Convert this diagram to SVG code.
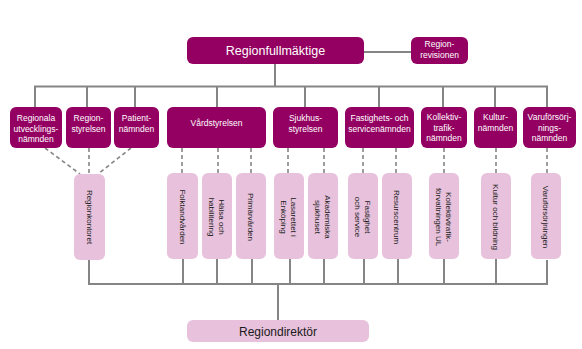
<svg xmlns="http://www.w3.org/2000/svg" width="582" height="349" viewBox="0 0 582 349">
  <style>
    .board { fill: #940061; }
    .unit { fill: #e8c2dc; }
    .solid { stroke: #858585; stroke-width: 2; fill: none; }
    .dash { stroke: #858585; stroke-width: 1.6; stroke-dasharray: 4 3; fill: none; }
    .wt { fill: #ffffff; font-family: "Liberation Sans", Arial, sans-serif; font-size: 8.5px; text-anchor: middle; }
    .bt { fill: #1a1a1a; font-family: "Liberation Sans", Arial, sans-serif; font-size: 8px; text-anchor: middle; }
    .big { font-size: 12.5px; }
  </style>
  <rect width="582" height="349" fill="#ffffff"/>

  <g id="connectors">
    <!-- council to revision -->
    <line class="solid" x1="364" y1="52" x2="411" y2="52"/>
    <!-- council down to boards -->
    <line class="solid" x1="275" y1="64" x2="275" y2="86.5"/>
    <polyline class="solid" points="35,107 35,86.5 547,86.5 547,107"/>
    <line class="solid" x1="87" y1="86.5" x2="87" y2="107"/>
    <line class="solid" x1="135" y1="86.5" x2="135" y2="107"/>
    <line class="solid" x1="217" y1="86.5" x2="217" y2="107"/>
    <line class="solid" x1="305" y1="86.5" x2="305" y2="107"/>
    <line class="solid" x1="379" y1="86.5" x2="379" y2="107"/>
    <line class="solid" x1="443" y1="86.5" x2="443" y2="107"/>
    <line class="solid" x1="495" y1="86.5" x2="495" y2="107"/>
    <!-- boards to administrations (dashed) -->
    <line class="dash" x1="45" y1="148" x2="80" y2="174"/>
    <line class="dash" x1="89" y1="148" x2="89" y2="174"/>
    <line class="dash" x1="131" y1="148" x2="98" y2="174"/>
    <line class="dash" x1="182" y1="148" x2="182" y2="173"/>
    <line class="dash" x1="218" y1="148" x2="218" y2="173"/>
    <line class="dash" x1="251" y1="148" x2="251" y2="173"/>
    <line class="dash" x1="288" y1="148" x2="288" y2="173"/>
    <line class="dash" x1="324" y1="148" x2="324" y2="173"/>
    <line class="dash" x1="363" y1="148" x2="363" y2="173"/>
    <line class="dash" x1="396" y1="148" x2="396" y2="173"/>
    <line class="dash" x1="444" y1="148" x2="444" y2="173"/>
    <line class="dash" x1="496" y1="148" x2="496" y2="173"/>
    <line class="dash" x1="547" y1="148" x2="547" y2="173"/>
    <!-- administrations to director -->
    <polyline class="solid" points="89,260 89,284 547,284 547,260"/>
    <line class="solid" x1="183" y1="259" x2="183" y2="284"/>
    <line class="solid" x1="217" y1="259" x2="217" y2="284"/>
    <line class="solid" x1="252" y1="259" x2="252" y2="284"/>
    <line class="solid" x1="290" y1="259" x2="290" y2="284"/>
    <line class="solid" x1="324" y1="259" x2="324" y2="284"/>
    <line class="solid" x1="364" y1="259" x2="364" y2="284"/>
    <line class="solid" x1="398" y1="259" x2="398" y2="284"/>
    <line class="solid" x1="444" y1="259" x2="444" y2="284"/>
    <line class="solid" x1="496" y1="259" x2="496" y2="284"/>
    <line class="solid" x1="278" y1="284" x2="278" y2="320"/>
  </g>

  <!-- top level -->
  <g id="regionfullmaktige">
    <rect class="board" x="187" y="37" width="177" height="27" rx="6"/>
    <text class="wt big" x="275.5" y="55">Regionfullmäktige</text>
  </g>
  <g id="regionrevisionen">
    <rect class="board" x="411" y="37" width="57" height="27" rx="6"/>
    <text class="wt" x="439.5" y="47">Region-</text>
    <text class="wt" x="439.5" y="57.5">revisionen</text>
  </g>

  <!-- boards -->
  <g id="regionala-utvecklingsnamnden">
    <rect class="board" x="10" y="107" width="52" height="41" rx="6"/>
    <text class="wt" x="36" y="121">Regionala</text>
    <text class="wt" x="36" y="131.5">utvecklings-</text>
    <text class="wt" x="36" y="142">nämnden</text>
  </g>
  <g id="regionstyrelsen">
    <rect class="board" x="66" y="107" width="45" height="41" rx="6"/>
    <text class="wt" x="88.5" y="121">Region-</text>
    <text class="wt" x="88.5" y="131.5">styrelsen</text>
  </g>
  <g id="patientnamnden">
    <rect class="board" x="114" y="107" width="45" height="41" rx="6"/>
    <text class="wt" x="136.5" y="121">Patient-</text>
    <text class="wt" x="136.5" y="131.5">nämnden</text>
  </g>
  <g id="vardstyrelsen">
    <rect class="board" x="167" y="107" width="99" height="41" rx="6"/>
    <text class="wt" x="216.5" y="126">Vårdstyrelsen</text>
  </g>
  <g id="sjukhusstyrelsen">
    <rect class="board" x="273" y="107" width="65" height="41" rx="6"/>
    <text class="wt" x="305.5" y="121">Sjukhus-</text>
    <text class="wt" x="305.5" y="131.5">styrelsen</text>
  </g>
  <g id="fastighets-och-servicenamnden">
    <rect class="board" x="345" y="107" width="69" height="41" rx="6"/>
    <text class="wt" x="379.5" y="121">Fastighets- och</text>
    <text class="wt" x="379.5" y="131.5">servicenämnden</text>
  </g>
  <g id="kollektivtrafiknamnden">
    <rect class="board" x="421" y="107" width="46" height="41" rx="6"/>
    <text class="wt" x="444" y="120">Kollektiv-</text>
    <text class="wt" x="444" y="130.5">trafik-</text>
    <text class="wt" x="444" y="141">nämnden</text>
  </g>
  <g id="kulturnamnden">
    <rect class="board" x="474" y="107" width="43" height="41" rx="6"/>
    <text class="wt" x="495.5" y="120">Kultur-</text>
    <text class="wt" x="495.5" y="130.5">nämnden</text>
  </g>
  <g id="varuforsorjningsnamnden">
    <rect class="board" x="523" y="107" width="53" height="41" rx="6"/>
    <text class="wt" x="549.5" y="120">Varuförsörj-</text>
    <text class="wt" x="549.5" y="130.5">nings-</text>
    <text class="wt" x="549.5" y="141">nämnden</text>
  </g>

  <!-- administrations (vertical labels) -->
  <g id="regionkontoret">
    <rect class="unit" x="74" y="174" width="31" height="86" rx="6"/>
    <text class="bt" transform="translate(89.5,217) rotate(90)" y="3">Regionkontoret</text>
  </g>
  <g id="folktandvarden">
    <rect class="unit" x="167" y="173" width="31" height="86" rx="6"/>
    <text class="bt" transform="translate(182.5,217) rotate(90)" y="3">Folktandvården</text>
  </g>
  <g id="halsa-och-habilitering">
    <rect class="unit" x="202" y="173" width="30" height="86" rx="6"/>
    <text class="bt" transform="translate(217,217) rotate(90)" y="-1.5">Hälsa och</text>
    <text class="bt" transform="translate(217,217) rotate(90)" y="8">habilitering</text>
  </g>
  <g id="primarvarden">
    <rect class="unit" x="236" y="173" width="30" height="86" rx="6"/>
    <text class="bt" transform="translate(251,217) rotate(90)" y="3">Primärvården</text>
  </g>
  <g id="lasarettet-i-enkoping">
    <rect class="unit" x="274" y="173" width="30" height="86" rx="6"/>
    <text class="bt" transform="translate(289,217) rotate(90)" y="-1.5">Lasarettet i</text>
    <text class="bt" transform="translate(289,217) rotate(90)" y="8">Enköping</text>
  </g>
  <g id="akademiska-sjukhuset">
    <rect class="unit" x="308" y="173" width="30" height="86" rx="6"/>
    <text class="bt" transform="translate(323,217) rotate(90)" y="-1.5">Akademiska</text>
    <text class="bt" transform="translate(323,217) rotate(90)" y="8">sjukhuset</text>
  </g>
  <g id="fastighet-och-service">
    <rect class="unit" x="348" y="173" width="30" height="86" rx="6"/>
    <text class="bt" transform="translate(363,217) rotate(90)" y="-1.5">Fastighet</text>
    <text class="bt" transform="translate(363,217) rotate(90)" y="8">och service</text>
  </g>
  <g id="resurscentrum">
    <rect class="unit" x="382" y="173" width="30" height="86" rx="6"/>
    <text class="bt" transform="translate(397,217) rotate(90)" y="3">Resurscentrum</text>
  </g>
  <g id="kollektivtrafikforvaltningen-ul">
    <rect class="unit" x="429" y="173" width="30" height="86" rx="6"/>
    <text class="bt" transform="translate(444,217) rotate(90)" y="-1.5">Kollektivtrafik-</text>
    <text class="bt" transform="translate(444,217) rotate(90)" y="8">förvaltningen UL</text>
  </g>
  <g id="kultur-och-bildning">
    <rect class="unit" x="481" y="173" width="30" height="86" rx="6"/>
    <text class="bt" transform="translate(496,217) rotate(90)" y="3">Kultur och bildning</text>
  </g>
  <g id="varuforsorjningen">
    <rect class="unit" x="531" y="173" width="30" height="86" rx="6"/>
    <text class="bt" transform="translate(546,217) rotate(90)" y="3">Varuförsörjningen</text>
  </g>

  <!-- director -->
  <g id="regiondirektor">
    <rect class="unit" x="187" y="320" width="182" height="22" rx="6"/>
    <text class="bt big" x="278" y="335.5" style="font-size:12px">Regiondirektör</text>
  </g>
</svg>
